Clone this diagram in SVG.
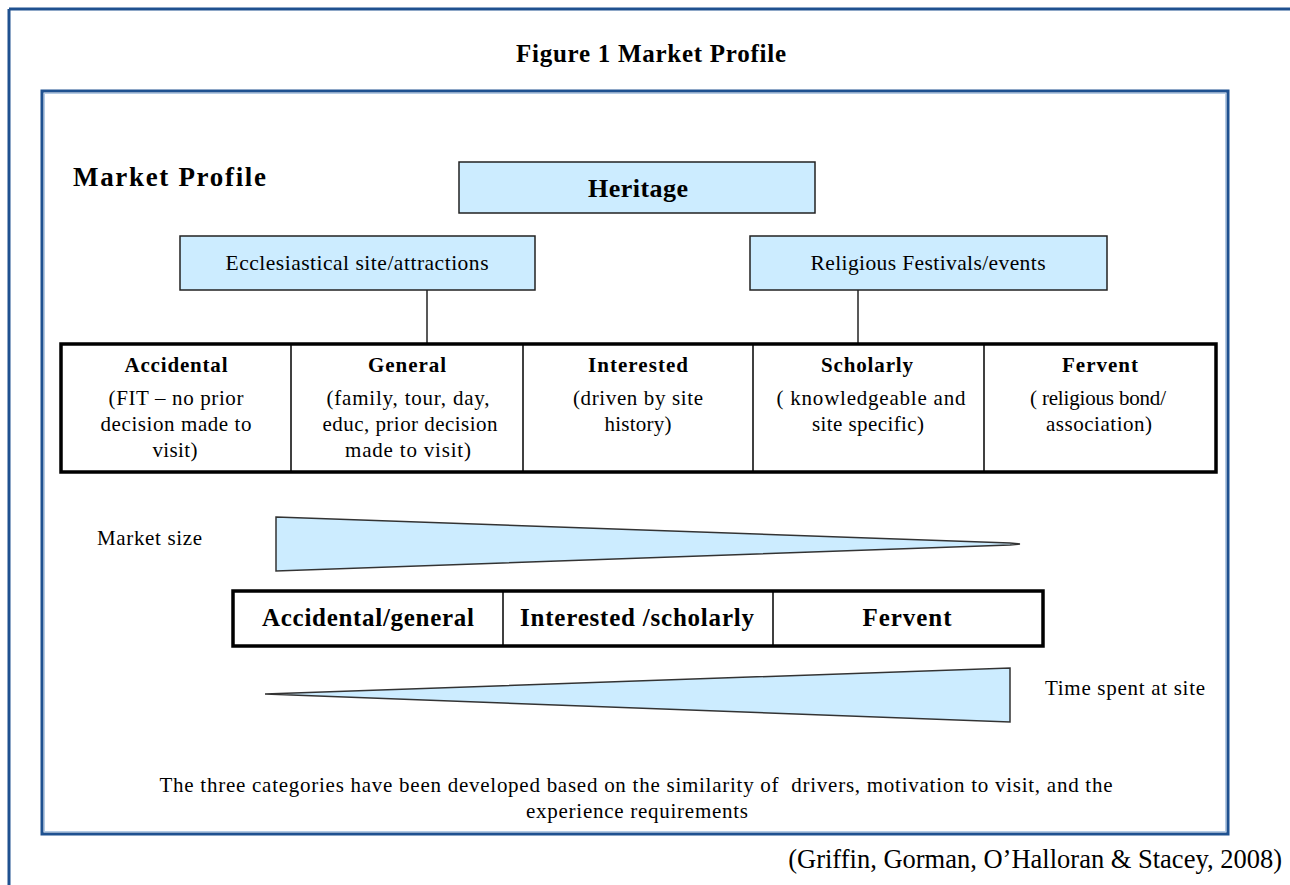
<svg xmlns="http://www.w3.org/2000/svg" width="1290" height="885" viewBox="0 0 1290 885">
<style>
text{font-family:"Liberation Serif","Times New Roman",serif;fill:#000}
.b{font-weight:bold}
.box{fill:#CCECFF;stroke:#222;stroke-width:1.5}
.tbl{fill:#fff;stroke:#000;stroke-width:3.5}
.div{stroke:#000;stroke-width:1.5}
.con{stroke:#222;stroke-width:1.5;fill:none}
.tri{fill:#CCECFF;stroke:#333;stroke-width:1.5;stroke-linejoin:miter}
.c{text-anchor:middle}
</style>
<rect width="1290" height="885" fill="#fff"/>
<g id="frame">
<line x1="9" y1="9" x2="1290" y2="9" stroke="#1F5190" stroke-width="3"/>
<line x1="9" y1="9" x2="9" y2="885" stroke="#1F5190" stroke-width="3"/>
<rect x="42" y="91" width="1186" height="743" fill="none" stroke="#1F5190" stroke-width="3"/>
<rect x="44.5" y="93.5" width="1181" height="738" fill="none" stroke="#B5CBE4" stroke-width="1"/>
</g>
<text id="title" class="b c" x="651" y="62" font-size="25" textLength="270">Figure 1 Market Profile</text>
<text id="mp-label" class="b" x="73" y="186" font-size="27" textLength="193">Market Profile</text>
<g id="connectors">
<line class="con" x1="427" y1="290" x2="427" y2="344"/>
<line class="con" x1="858" y1="290" x2="858" y2="344"/>
</g>
<g id="heritage">
<rect class="box" x="459" y="162" width="356" height="51"/>
<text class="b c" x="638" y="197" font-size="26" textLength="100">Heritage</text>
</g>
<g id="ecclesiastical">
<rect class="box" x="180" y="236" width="355" height="54"/>
<text class="c" x="357" y="270" font-size="21.5" textLength="263">Ecclesiastical site/attractions</text>
</g>
<g id="religious">
<rect class="box" x="750" y="236" width="357" height="54"/>
<text class="c" x="928" y="270" font-size="21.5" textLength="235">Religious Festivals/events</text>
</g>
<g id="segments">
<rect class="tbl" x="61" y="344" width="1155" height="128"/>
<line class="div" x1="291" y1="344" x2="291" y2="472"/>
<line class="div" x1="523" y1="344" x2="523" y2="472"/>
<line class="div" x1="753" y1="344" x2="753" y2="472"/>
<line class="div" x1="984" y1="344" x2="984" y2="472"/>
</g>
<g id="accidental" font-size="21">
<text class="b c" x="176" y="372" textLength="103">Accidental</text>
<text class="c" x="176" y="405" textLength="135">(FIT – no prior</text>
<text class="c" x="176" y="431" textLength="151">decision made to</text>
<text class="c" x="175" y="457" textLength="45">visit)</text>
</g>
<g id="general" font-size="21">
<text class="b c" x="407" y="372" textLength="78">General</text>
<text class="c" x="408" y="405" textLength="163">(family, tour, day,</text>
<text class="c" x="410" y="431" textLength="175">educ, prior decision</text>
<text class="c" x="408" y="457" textLength="126">made to visit)</text>
</g>
<g id="interested" font-size="21">
<text class="b c" x="638" y="372" textLength="100">Interested</text>
<text class="c" x="638" y="405" textLength="130">(driven by site</text>
<text class="c" x="638" y="431" textLength="67">history)</text>
</g>
<g id="scholarly" font-size="21">
<text class="b c" x="867" y="372" textLength="92">Scholarly</text>
<text class="c" x="871" y="405" textLength="189">( knowledgeable and</text>
<text class="c" x="868" y="431" textLength="112">site specific)</text>
</g>
<g id="fervent" font-size="21">
<text class="b c" x="1100" y="372" textLength="76">Fervent</text>
<text class="c" x="1098" y="405" textLength="136">( religious bond/</text>
<text class="c" x="1099" y="431" textLength="106">association)</text>
</g>
<g id="market-size">
<text x="97" y="545" font-size="21" textLength="105">Market size</text>
<polygon class="tri" points="276,517 1010,543 1020,544 1010,545 276,571"/>
</g>
<g id="categories">
<rect class="tbl" x="233" y="591" width="810" height="55"/>
<line class="div" x1="503" y1="591" x2="503" y2="646"/>
<line class="div" x1="773" y1="591" x2="773" y2="646"/>
<text class="b c" x="368" y="626" font-size="25" textLength="212">Accidental/general</text>
<text class="b c" x="637" y="626" font-size="25" textLength="234">Interested /scholarly</text>
<text class="b c" x="907" y="626" font-size="25" textLength="89">Fervent</text>
</g>
<g id="time-spent">
<polygon class="tri" points="265,694 1010,668 1010,722"/>
<text x="1045" y="695" font-size="21" textLength="160">Time spent at site</text>
</g>
<g id="note" font-size="21">
<text class="c" x="636" y="792" textLength="953" xml:space="preserve">The three categories have been developed based on the similarity of  drivers, motivation to visit, and the</text>
<text class="c" x="637" y="818" textLength="222">experience requirements</text>
</g>
<text id="citation" x="1282" y="868" font-size="26.5" text-anchor="end">(Griffin, Gorman, O’Halloran &amp; Stacey, 2008)</text>
</svg>
